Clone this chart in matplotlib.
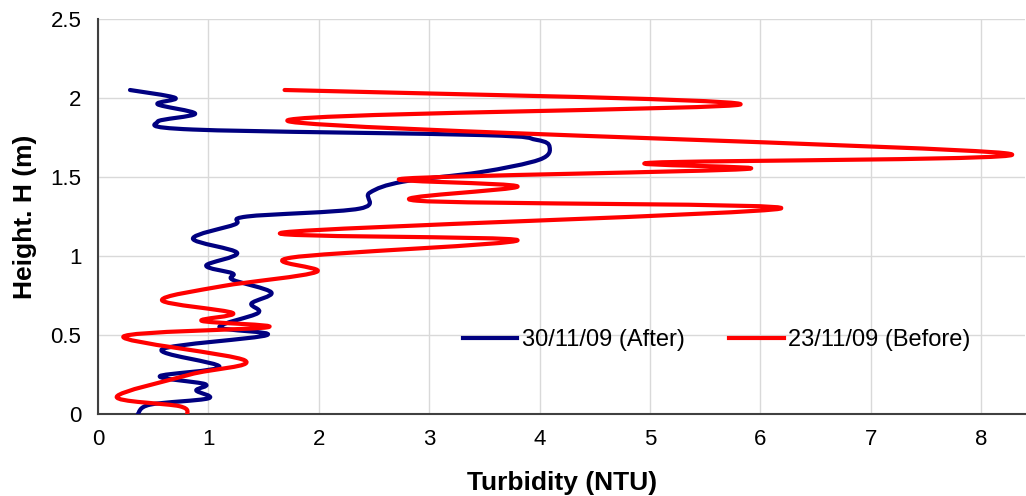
import numpy as np
import matplotlib.pyplot as plt
from matplotlib.path import Path
from matplotlib.patches import PathPatch
from matplotlib.lines import Line2D

plt.rcParams["font.family"] = ["Liberation Sans", "DejaVu Sans"]

# ----------------------------------------------------------------------
# Data (turbidity in NTU, height in m)
# ----------------------------------------------------------------------
after_ntu = [0.29, 0.70, 0.54, 0.88, 0.54, 0.86, 3.48, 3.97, 4.09, 4.00, 3.46,
             2.76, 2.46, 2.37, 1.35, 1.24, 0.86, 1.26, 0.98, 1.22, 1.22, 1.57,
             1.39, 1.45, 1.10, 1.53, 0.58, 1.10, 0.56, 0.97, 0.89, 1.00, 0.47,
             0.36]
after_h = [2.05, 2.00, 1.96, 1.90, 1.85, 1.80, 1.765, 1.735, 1.69, 1.61, 1.53,
           1.47, 1.40, 1.30, 1.25, 1.20, 1.11, 1.02, 0.94, 0.89, 0.85, 0.77,
           0.70, 0.64, 0.55, 0.50, 0.41, 0.30, 0.24, 0.19, 0.15, 0.10, 0.06,
           0.00]

before_ntu = [1.69, 5.82, 1.74, 8.22, 5.01, 5.86, 2.78, 3.80, 2.89, 6.18, 1.69,
              3.80, 1.75, 1.98, 1.13, 0.58, 1.22, 0.94, 1.54, 0.23, 1.33, 0.83,
              0.17, 0.74, 0.81]
before_h = [2.05, 1.96, 1.85, 1.65, 1.59, 1.55, 1.49, 1.44, 1.35, 1.30, 1.15,
            1.10, 0.99, 0.90, 0.81, 0.72, 0.64, 0.59, 0.55, 0.49, 0.34, 0.25,
            0.11, 0.05, 0.00]

labels = ["30/11/09 (After)", "23/11/09 (Before)"]
colors = ["#000080", "#ff0000"]


# ----------------------------------------------------------------------
# Excel-style smoothed line: cubic Bezier through every point
# ----------------------------------------------------------------------
def smooth_path(x, y):
    p = np.column_stack([x, y]).astype(float)
    n = len(p)
    verts = [p[0]]
    codes = [Path.MOVETO]
    for i in range(n - 1):
        p0 = p[i - 1] if i > 0 else p[i]
        p3 = p[i + 2] if i + 2 < n else p[i + 1]
        c1 = p[i] + (p[i + 1] - p0) / 6.0
        c2 = p[i + 1] - (p3 - p[i]) / 6.0
        verts += [c1, c2, p[i + 1]]
        codes += [Path.CURVE4] * 3
    return Path(verts, codes)


fig = plt.figure(figsize=(10.26, 4.96), dpi=100)
ax = fig.add_axes([0.0955, 0.165, 0.904, 0.797])

for xs, ys, c in [(after_ntu, after_h, colors[0]), (before_ntu, before_h, colors[1])]:
    ax.add_patch(PathPatch(smooth_path(xs, ys), facecolor="none", edgecolor=c,
                           lw=3, capstyle="round", joinstyle="round", zorder=3))

ax.set_xlim(0, 8.4)
ax.set_ylim(0, 2.5)
ax.set_xticks(np.arange(0, 9, 1))
ax.set_yticks(np.arange(0, 2.51, 0.5))
ax.set_yticklabels(["0", "0.5", "1", "1.5", "2", "2.5"])
ax.grid(True, color="#d9d9d9", lw=1)
ax.set_axisbelow(True)
ax.tick_params(axis="x", length=0, labelsize=16, pad=11)
ax.tick_params(axis="y", length=0, labelsize=16, pad=12)

for s in ["top", "right"]:
    ax.spines[s].set_visible(False)
for s in ["left", "bottom"]:
    ax.spines[s].set_color("#404040")
    ax.spines[s].set_linewidth(1.5)

ax.set_xlabel("Turbidity (NTU)", fontsize=19, fontweight="bold", va="center")
ax.set_ylabel("Height. H (m)", fontsize=19, fontweight="bold", va="center")
ax.xaxis.set_label_coords(0.5, -0.175)
ax.yaxis.set_label_coords(-0.079, 0.5)

handles = [Line2D([], [], color=c, lw=3) for c in colors]
ax.legend(handles, labels, loc="center left", bbox_to_anchor=(0.383, 0.187),
          borderaxespad=0, ncol=2, frameon=False, fontsize=17,
          handlelength=2.3, columnspacing=1.9, handletextpad=0.2)

fig.savefig("out.png", dpi=100)
